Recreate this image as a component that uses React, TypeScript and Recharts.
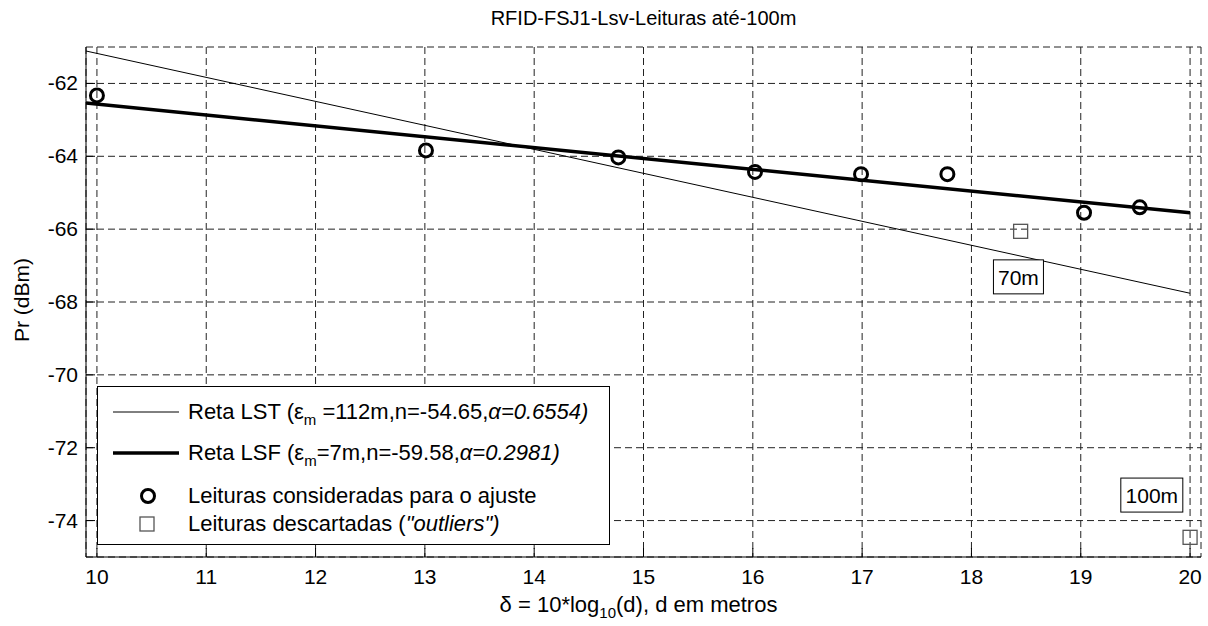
import React from "react";
import { ComposedChart, Line, Scatter, XAxis, YAxis, CartesianGrid } from "recharts";

const FONT = "'Liberation Sans', Arial, Helvetica, sans-serif";

const xTicks = [10, 11, 12, 13, 14, 15, 16, 17, 18, 19, 20];
const yTicks = [-74, -72, -70, -68, -66, -64, -62];

// readings kept for the fit (delta = 10*log10(d))
const fitX = [10, 13.01, 14.77, 16.02, 16.99, 17.78, 19.03, 19.54];
const fitY = [-62.33, -63.84, -64.03, -64.43, -64.49, -64.49, -65.55, -65.4];

// discarded readings (70m, 100m)
const outX = [18.45, 20];
const outY = [-66.06, -74.46];

// fitted lines
const lstX = [9.9, 20];
const lstY = [-61.11, -67.76];
const lsfX = [9.9, 20];
const lsfY = [-62.54, -65.55];

// text boxes
const noteText = ["70m", "100m"];
const noteX = [18.43, 19.65];
const noteY = [-67.31, -73.3];

const toPts = (xs: number[], ys: number[]) => xs.map((x, i) => ({ x, y: ys[i] }));
const fitData = toPts(fitX, fitY);
const outData = toPts(outX, outY);
const lstData = toPts(lstX, lstY);
const lsfData = toPts(lsfX, lsfY);
const noteData = noteX.map((x, i) => ({ x, y: noteY[i], text: noteText[i] }));

const TICK = 9;

function BottomTick({ x, y, payload }: any) {
  return (
    <g>
      <line x1={x} y1={y} x2={x} y2={y - TICK} stroke="#000" />
      <text x={x} y={y + 27} textAnchor="middle" fontFamily={FONT} fontSize={21} fill="#000">
        {payload.value}
      </text>
    </g>
  );
}

function LeftTick({ x, y, payload }: any) {
  return (
    <g>
      <line x1={x} y1={y} x2={x + TICK} y2={y} stroke="#000" />
      <text x={x - 8} y={y + 7} textAnchor="end" fontFamily={FONT} fontSize={21} fill="#000">
        {payload.value}
      </text>
    </g>
  );
}

function TopTick({ x, y }: any) {
  return <line x1={x} y1={y} x2={x} y2={y + TICK} stroke="#000" />;
}

function RightTick({ x, y }: any) {
  return <line x1={x} y1={y} x2={x - TICK} y2={y} stroke="#000" />;
}

function Ring({ cx, cy }: any) {
  return <circle cx={cx} cy={cy} r={6.5} fill="none" stroke="#000" strokeWidth={3} />;
}

function Sq({ cx, cy }: any) {
  return <rect x={cx - 7} y={cy - 7} width={14} height={14} fill="none" stroke="#555" strokeWidth={1.3} />;
}

function Note({ cx, cy, payload }: any) {
  const w = payload.text.length * 12 + 14;
  return (
    <g>
      <rect x={cx - w / 2} y={cy - 17} width={w} height={34} fill="#fff" stroke="#000" strokeWidth={1} />
      <text x={cx} y={cy + 8} textAnchor="middle" fontFamily={FONT} fontSize={21} fill="#000">
        {payload.text}
      </text>
    </g>
  );
}

const subStyle: React.CSSProperties = { fontSize: 15, position: "relative", top: 6, lineHeight: 0 };

function LegendBox() {
  const row = (top: number): React.CSSProperties => ({
    position: "absolute",
    left: 0,
    top: top - 13,
    height: 26,
    lineHeight: "26px",
    width: "100%",
    whiteSpace: "nowrap",
  });
  const text: React.CSSProperties = { position: "absolute", left: 90 };
  return (
    <div
      style={{
        position: "absolute",
        left: 97,
        top: 386,
        width: 513,
        height: 159,
        border: "1px solid #000",
        boxSizing: "border-box",
        background: "#fff",
        fontFamily: FONT,
        fontSize: 22,
        color: "#000",
      }}
    >
      <div style={row(25)}>
        <svg width={90} height={26} style={{ position: "absolute", left: 0, top: 0 }}>
          <line x1={15} y1={13} x2={81} y2={13} stroke="#000" strokeWidth={1} />
        </svg>
        <span style={text}>
          Reta LST (ε<span style={subStyle}>m</span> =112m,n=-54.65,<i>α=0.6554)</i>
        </span>
      </div>
      <div style={row(66)}>
        <svg width={90} height={26} style={{ position: "absolute", left: 0, top: 0 }}>
          <line x1={15} y1={13} x2={81} y2={13} stroke="#000" strokeWidth={3.5} />
        </svg>
        <span style={text}>
          Reta LSF (ε<span style={subStyle}>m</span>=7m,n=-59.58,<i>α=0.2981)</i>
        </span>
      </div>
      <div style={row(109)}>
        <svg width={90} height={26} style={{ position: "absolute", left: 0, top: 0 }}>
          <circle cx={50} cy={13} r={6.5} fill="none" stroke="#000" strokeWidth={3} />
        </svg>
        <span style={text}>Leituras consideradas para o ajuste</span>
      </div>
      <div style={row(137)}>
        <svg width={90} height={26} style={{ position: "absolute", left: 0, top: 0 }}>
          <rect x={42} y={6} width={14} height={14} fill="none" stroke="#555" strokeWidth={1.3} />
        </svg>
        <span style={text}>
          Leituras descartadas (<i>"outliers")</i>
        </span>
      </div>
    </div>
  );
}

export default function App() {
  return (
    <div style={{ position: "absolute", left: 0, top: 0, width: 1208, height: 626, background: "#fff" }}>
      <ComposedChart width={1208} height={626} margin={{ top: 47, right: 7, bottom: 0, left: 0 }}>
        <CartesianGrid stroke="#222" strokeDasharray="7 4" strokeWidth={1} />
        <XAxis
          type="number"
          dataKey="x"
          domain={[9.9, 20.1]}
          ticks={xTicks}
          allowDataOverflow
          height={69}
          tickSize={0}
          tickMargin={0}
          tickLine={false}
          axisLine={{ stroke: "#000" }}
          tick={<BottomTick />}
          interval={0}
        />
        <XAxis
          xAxisId="top"
          orientation="top"
          type="number"
          dataKey="x"
          domain={[9.9, 20.1]}
          ticks={xTicks}
          allowDataOverflow
          height={0}
          tickSize={0}
          tickMargin={0}
          tickLine={false}
          axisLine={{ stroke: "#000" }}
          tick={<TopTick />}
          interval={0}
        />
        <YAxis
          type="number"
          dataKey="y"
          domain={[-75, -61]}
          ticks={yTicks}
          allowDataOverflow
          width={86}
          tickSize={0}
          tickMargin={0}
          tickLine={false}
          axisLine={{ stroke: "#000" }}
          tick={<LeftTick />}
          interval={0}
        />
        <YAxis
          yAxisId="right"
          orientation="right"
          type="number"
          dataKey="y"
          domain={[-75, -61]}
          ticks={yTicks}
          allowDataOverflow
          width={0}
          tickSize={0}
          tickMargin={0}
          tickLine={false}
          axisLine={{ stroke: "#000" }}
          tick={<RightTick />}
          interval={0}
        />
        <Line data={lstData} dataKey="y" type="linear" stroke="#000" strokeWidth={1} dot={false} activeDot={false} isAnimationActive={false} />
        <Line data={lsfData} dataKey="y" type="linear" stroke="#000" strokeWidth={3.5} dot={false} activeDot={false} isAnimationActive={false} />
        <Scatter data={fitData} shape={<Ring />} isAnimationActive={false} />
        <Scatter data={outData} shape={<Sq />} isAnimationActive={false} />
        <Scatter data={noteData} shape={<Note />} isAnimationActive={false} />
      </ComposedChart>

      <div
        style={{
          position: "absolute",
          left: 86,
          width: 1115,
          top: 6,
          height: 24,
          lineHeight: "24px",
          textAlign: "center",
          fontFamily: FONT,
          fontSize: 20,
        }}
      >
        RFID-FSJ1-Lsv-Leituras até-100m
      </div>

      <div
        style={{
          position: "absolute",
          left: 86,
          width: 1105,
          top: 592,
          height: 26,
          lineHeight: "26px",
          textAlign: "center",
          fontFamily: FONT,
          fontSize: 22,
          whiteSpace: "nowrap",
        }}
      >
        δ = 10*log<span style={subStyle}>10</span>(d), d em metros
      </div>

      <div
        style={{
          position: "absolute",
          left: 22 - 60,
          top: 300 - 13,
          width: 120,
          height: 26,
          lineHeight: "26px",
          textAlign: "center",
          fontFamily: FONT,
          fontSize: 21,
          transform: "rotate(-90deg)",
        }}
      >
        Pr (dBm)
      </div>

      <LegendBox />
    </div>
  );
}
